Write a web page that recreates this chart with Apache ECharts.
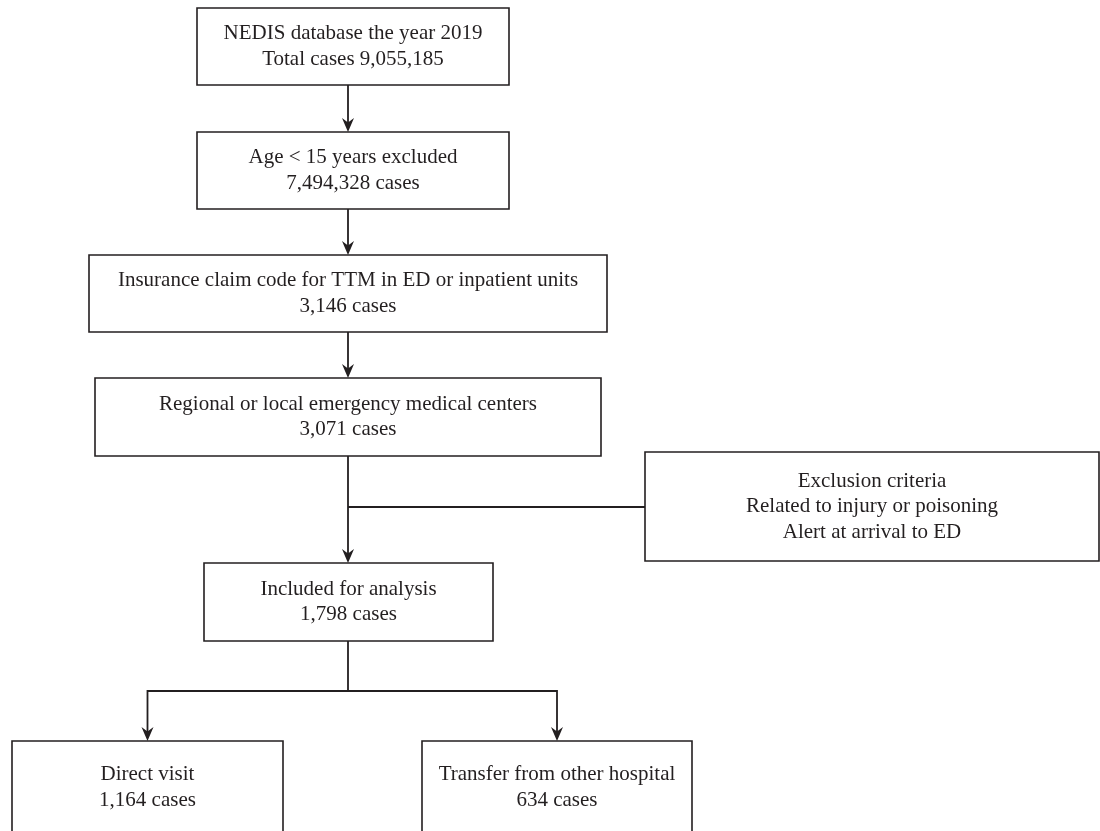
<!DOCTYPE html>
<html>
<head>
<meta charset="utf-8">
<script src="https://cdn.jsdelivr.net/npm/echarts@6/dist/echarts.min.js"></script>
<style>
html,body{margin:0;padding:0;background:#ffffff;}
#chart{width:1100px;height:831px;}
</style>
</head>
<body>
<div id="chart"></div>
<script>
// ---- content (values) ----
const stepTitles = [
  'NEDIS database the year 2019',
  'Age < 15 years excluded',
  'Insurance claim code for TTM in ED or inpatient units',
  'Regional or local emergency medical centers',
  'Included for analysis'
];
const stepCases = [9055185, 7494328, 3146, 3071, 1798];
const exclusionLines = ['Exclusion criteria', 'Related to injury or poisoning', 'Alert at arrival to ED'];
const branchTitles = ['Direct visit', 'Transfer from other hospital'];
const branchCases = [1164, 634];

// ---- layout (diagram units, mapped through hidden axes) ----
const stepLayout = [
  [197, 8, 509, 85],
  [197, 132, 509, 209],
  [89, 255, 607, 332],
  [95, 378, 601, 456],
  [204, 563, 493, 641]
];
const exclusionLayout = [645, 452, 1099, 561];
const branchLayout = [
  [12, 741, 283, 834],
  [422, 741, 692, 834]
];
const trunkX = 348;
const exclusionJoinY = 507;
const splitY = 691;

const fmt = n => n.toLocaleString('en-US');
const textColor = '#231f20';
const lineColor = '#231f20';
const fontStr = '21px "Liberation Serif", "Times New Roman", serif';

// build boxes
const boxes = [];
stepTitles.forEach((t, i) => {
  const second = i === 0 ? 'Total cases ' + fmt(stepCases[i]) : fmt(stepCases[i]) + ' cases';
  boxes.push({ rect: stepLayout[i], lines: [t, second] });
});
boxes.push({ rect: exclusionLayout, lines: exclusionLines });
branchTitles.forEach((t, i) => {
  boxes.push({ rect: branchLayout[i], lines: [t, fmt(branchCases[i]) + ' cases'] });
});

// build connectors from layout
const connectors = [];
for (let i = 0; i < stepLayout.length - 1; i++) {
  connectors.push({ pts: [[trunkX, stepLayout[i][3]], [trunkX, stepLayout[i + 1][1]]], arrow: true });
}
connectors.push({ pts: [[trunkX, exclusionJoinY], [exclusionLayout[0], exclusionJoinY]], arrow: false });
const lastStep = stepLayout[stepLayout.length - 1];
connectors.push({ pts: [[trunkX, lastStep[3]], [trunkX, splitY]], arrow: false });
branchLayout.forEach(b => {
  const cx = (b[0] + b[2]) / 2;
  connectors.push({ pts: [[trunkX, splitY], [cx, splitY], [cx, b[1]]], arrow: true });
});

const chart = echarts.init(document.getElementById('chart'), null, { renderer: 'canvas' });

const option = {
  backgroundColor: '#ffffff',
  animation: false,
  grid: { left: 0, right: 0, top: 0, bottom: 0 },
  xAxis: { type: 'value', min: 0, max: 1100, show: false },
  yAxis: { type: 'value', min: 0, max: 831, inverse: true, show: false },
  series: [
    {
      type: 'custom',
      coordinateSystem: 'cartesian2d',
      silent: true,
      data: connectors.map((c, i) => [c.pts[0][0], c.pts[0][1], i]),
      renderItem: function (params, api) {
        const c = connectors[api.value(2)];
        const pts = c.pts.map(p => api.coord(p));
        const children = [];
        const linePts = pts.slice();
        if (c.arrow) {
          const end = pts[pts.length - 1];
          linePts[linePts.length - 1] = [end[0], end[1] - 6];
          children.push({
            type: 'polygon',
            shape: { points: [[end[0], end[1]], [end[0] - 6, end[1] - 14], [end[0], end[1] - 9.5], [end[0] + 6, end[1] - 14]] },
            style: { fill: lineColor }
          });
        }
        children.unshift({
          type: 'polyline',
          shape: { points: linePts },
          style: { stroke: lineColor, lineWidth: 1.8, fill: null }
        });
        return { type: 'group', children: children };
      }
    },
    {
      type: 'custom',
      coordinateSystem: 'cartesian2d',
      silent: true,
      data: boxes.map((b, i) => [(b.rect[0] + b.rect[2]) / 2, (b.rect[1] + b.rect[3]) / 2, i]),
      renderItem: function (params, api) {
        const b = boxes[api.value(2)];
        const p0 = api.coord([b.rect[0], b.rect[1]]);
        const p1 = api.coord([b.rect[2], b.rect[3]]);
        const c = api.coord([api.value(0), api.value(1)]);
        return {
          type: 'group',
          children: [
            {
              type: 'rect',
              shape: { x: p0[0], y: p0[1], width: p1[0] - p0[0], height: p1[1] - p0[1] },
              style: { fill: '#ffffff', stroke: lineColor, lineWidth: 1.6 }
            },
            {
              type: 'text',
              style: {
                text: b.lines.join('\n'),
                x: c[0], y: c[1],
                align: 'center', verticalAlign: 'middle',
                font: fontStr, lineHeight: 25.5, fill: textColor
              }
            }
          ]
        };
      }
    }
  ]
};
chart.setOption(option);
</script>
</body>
</html>
